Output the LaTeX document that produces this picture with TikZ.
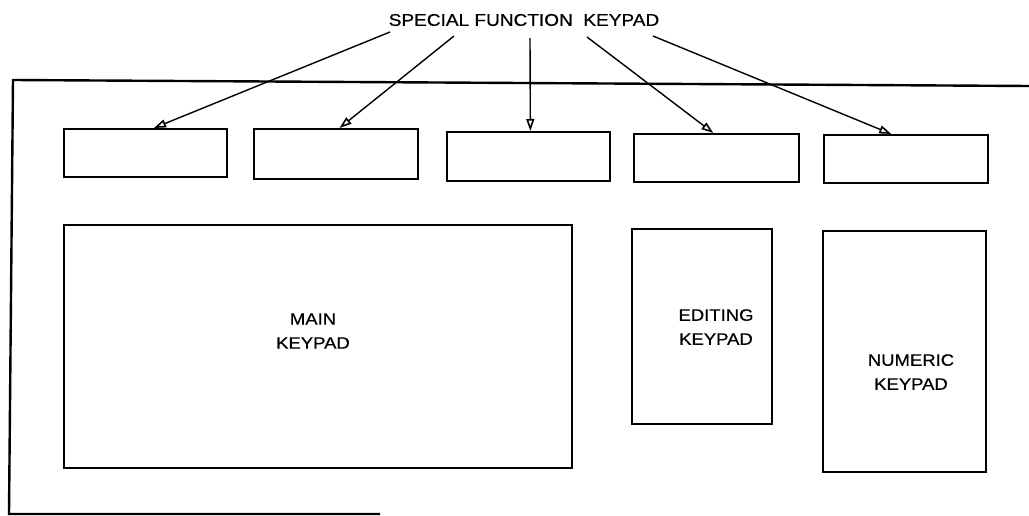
\documentclass[tikz,border=0pt]{standalone}
\usepackage{fontspec}
\newfontfamily\lblfont[FakeStretch=1.12,FakeBold=0.6]{Liberation Sans}
\usetikzlibrary{arrows.meta,calc}
\begin{document}
\begin{tikzpicture}[x=1pt,y=-1pt,
  keybox/.style={draw,line width=2.4pt,inner sep=0pt,anchor=north west},
  lbl/.style={font=\lblfont\fontsize{16.5}{24}\selectfont,align=center,inner sep=0pt},
  ptr/.style={line width=1.4pt,-{Triangle[open,length=12pt,width=8pt,line width=1.6pt]}}]
\useasboundingbox (0,0) rectangle (1029,516);
% outer frame
\coordinate (fr1) at (1029,86);
\coordinate (fr2) at (13,80);
\coordinate (fr3) at (9,514);
\coordinate (fr4) at (380,514);
\draw[line width=2.4pt] (fr1) -- (fr2) -- (fr3) -- (fr4);
% special function keypads
\node[keybox,minimum width=163pt,minimum height=48pt] (b1) at (63,128) {};
\node[keybox,minimum width=164pt,minimum height=50pt] (b2) at (253,128) {};
\node[keybox,minimum width=163pt,minimum height=49pt] (b3) at (446,131) {};
\node[keybox,minimum width=165pt,minimum height=48pt] (b4) at (633,133) {};
\node[keybox,minimum width=164pt,minimum height=48pt] (b5) at (823,134) {};
% large keypads
\node[keybox,minimum width=508pt,minimum height=243pt] (main) at (63,224) {};
\node[keybox,minimum width=140pt,minimum height=195pt] (edit) at (631,228) {};
\node[keybox,minimum width=163pt,minimum height=241pt] (num) at (822,230) {};
\node[lbl] (mainl) at (313,331) {MAIN\\KEYPAD};
\node[lbl] (editl) at (716,327) {EDITING\\KEYPAD};
\node[lbl] (numl) at (911,372) {NUMERIC\\KEYPAD};
% title
\node[lbl,font=\lblfont\fontsize{17}{20}\selectfont] (title) at (524,20) {SPECIAL FUNCTION\ \ KEYPAD};
\coordinate (s1) at (390,32);
\coordinate (s2) at (454,36);
\coordinate (s3) at (530,38);
\coordinate (s4) at (587,37);
\coordinate (s5) at (653,36);
\draw[ptr] (s1) -- ($(b1.north west)!0.55!(b1.north east)$);
\draw[ptr] (s2) -- ($(b2.north west)!0.52!(b2.north east)$);
\draw[ptr] (s3) -- ($(b3.north west)!0.51!(b3.north east)$);
\draw[ptr] (s4) -- ($(b4.north west)!0.48!(b4.north east)$);
\draw[ptr] (s5) -- ($(b5.north west)!0.41!(b5.north east)$);
\end{tikzpicture}
\end{document}
